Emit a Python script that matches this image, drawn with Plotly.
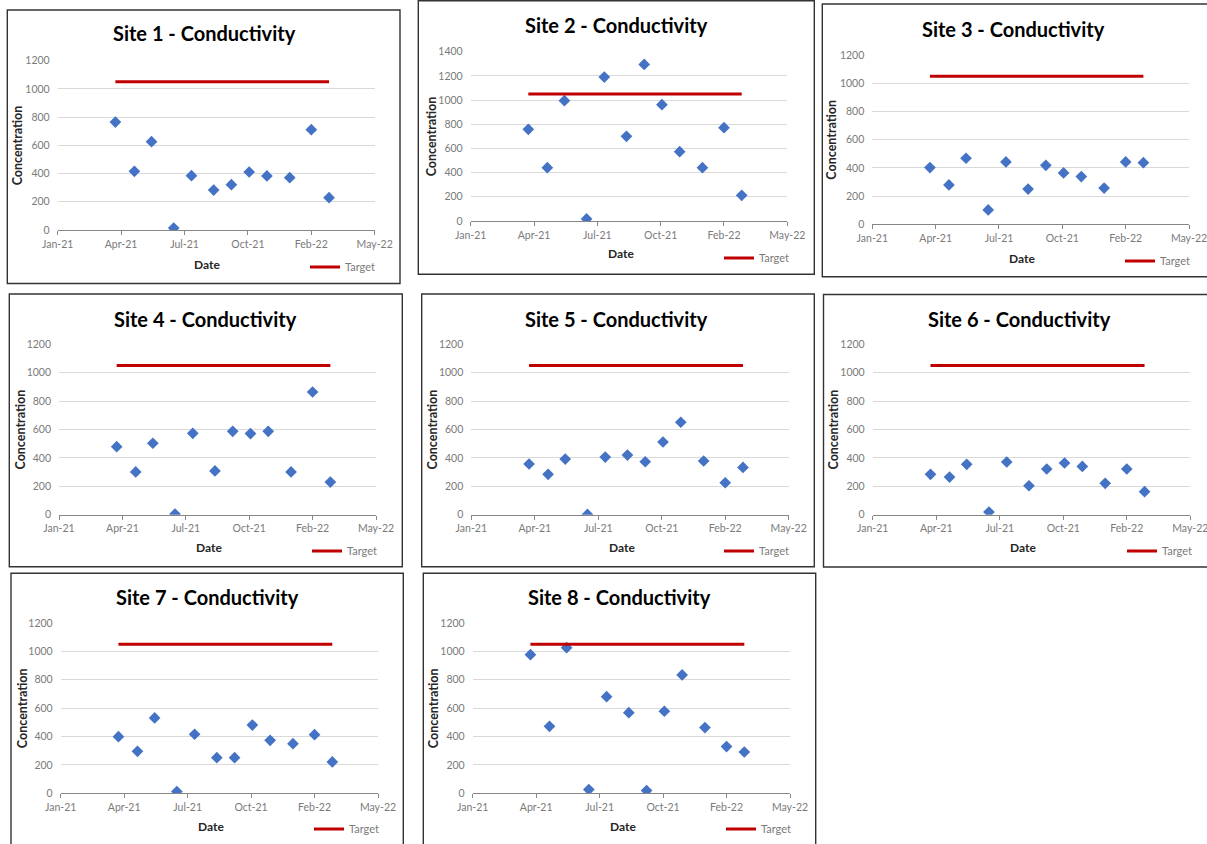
import plotly.graph_objects as go

# ---------------- data ----------------
sample_dates = ["2021-04-02", "2021-05-02", "2021-05-29", "2021-07-03", "2021-07-31",
                "2021-09-04", "2021-10-02", "2021-10-30", "2021-11-27", "2022-01-02",
                "2022-02-05", "2022-03-05"]

tick_dates = ["2021-01-01", "2021-04-11", "2021-07-20", "2021-10-28", "2022-02-05", "2022-05-16"]
tick_labels = ["Jan-21", "Apr-21", "Jul-21", "Oct-21", "Feb-22", "May-22"]

site_titles = ["Site 1 - Conductivity", "Site 2 - Conductivity", "Site 3 - Conductivity",
               "Site 4 - Conductivity", "Site 5 - Conductivity", "Site 6 - Conductivity",
               "Site 7 - Conductivity", "Site 8 - Conductivity"]

site1 = [765, 416, 626, 14, 385, 283, 321, 411, 383, 371, 711, 229]
site2 = [758, 441, 995, 17, 1190, 700, 1295, 962, 573, 441, 772, 212]
site3 = [402, 279, 468, 102, 442, 250, 418, 364, 338, 257, 442, 437]
site4 = [479, 301, 503, 5, 573, 308, 587, 571, 587, 301, 864, 230]
site5 = [357, 284, 392, 2, 406, 420, 373, 512, 651, 378, 225, 333]
site6 = [284, 265, 355, 19, 371, 204, 322, 364, 340, 221, 322, 162]
site7 = [399, 296, 531, 12, 416, 251, 251, 481, 373, 350, 413, 221]
site8 = [977, 472, 1026, 26, 681, 568, 19, 578, 834, 463, 329, 291]
sites = [site1, site2, site3, site4, site5, site6, site7, site8]

target_value = 1050
y_max = [1200, 1400, 1200, 1200, 1200, 1200, 1200, 1200]

# ---------------- layout geometry (pixels) ----------------
W, H = 1207, 844
# plot area: left, right, top(=y max gridline), bottom(=0)
plot_px = [
    (57.7, 374.7, 60.7, 230.0),
    (470.7, 787.3, 51.7, 221.0),
    (872.3, 1189.0, 55.0, 224.3),
    (59.0, 376.0, 344.3, 514.7),
    (471.3, 788.7, 344.3, 514.7),
    (872.7, 1190.3, 344.3, 514.7),
    (60.7, 378.0, 623.0, 793.3),
    (472.7, 790.0, 623.0, 793.3),
]
title_px = [(204, 33), (617, 25), (1013, 29), (205, 319), (617, 319), (1019, 319), (207, 597), (619, 597)]
ytitle_px = [17, 431, 832, 20, 432, 833, 22, 433]
xtitle_px = [(207, 264), (621, 254), (1022, 258), (209, 547), (622, 547), (1023, 547), (211, 826), (623, 826)]
legend_px = [(313, 267), (727, 258), (1128, 261), (315, 551), (727, 551), (1130, 551), (317, 829), (729, 829)]
border_px = [
    (7.3, 10.0, 400.0, 283.5),
    (418.3, 0.7, 814.3, 274.3),
    (822.3, 4.0, 1215.0, 276.7),
    (9.3, 294.0, 402.3, 566.7),
    (421.7, 294.0, 814.3, 566.7),
    (823.5, 294.5, 1215.0, 567.0),
    (11.0, 573.3, 403.3, 850.0),
    (423.3, 573.3, 815.7, 850.0),
]

def px_x(v):
    return v / W

def px_y(v):
    return 1 - v / H

FONT = "Lato, Carlito, Calibri, sans-serif"
fig = go.Figure()
layout = dict(
    width=W, height=H,
    margin=dict(l=0, r=0, t=0, b=0, pad=0, autoexpand=False),
    paper_bgcolor="white", plot_bgcolor="white",
    font=dict(family=FONT, color="#595959"),
    showlegend=True,
    shapes=[], annotations=[],
)

for i in range(8):
    n = i + 1
    xa = "x" if n == 1 else f"x{n}"
    ya = "y" if n == 1 else f"y{n}"
    lg = "legend" if n == 1 else f"legend{n}"

    fig.add_trace(go.Scatter(
        x=sample_dates, y=sites[i], mode="markers", xaxis=xa, yaxis=ya,
        marker=dict(symbol="diamond", size=9, color="#4472C4", line=dict(width=0)),
        name="Concentration", showlegend=False, hoverinfo="x+y",
    ))
    fig.add_trace(go.Scatter(
        x=[sample_dates[0], sample_dates[-1]], y=[target_value, target_value],
        mode="lines", xaxis=xa, yaxis=ya,
        line=dict(color="#C00000", width=3),
        name="Target", showlegend=True, legend=lg,
    ))

    l, r, t, b = plot_px[i]
    layout[f"xaxis{n}"] = dict(
        domain=[px_x(l), px_x(r)], anchor=ya, type="date",
        range=[tick_dates[0], tick_dates[-1]],
        tickmode="array", tickvals=tick_dates, ticktext=tick_labels,
        showgrid=False, showline=True, linecolor="#868686", linewidth=1.3,
        ticks="outside", ticklen=4, tickcolor="#868686", tickwidth=1.3,
        tickfont=dict(size=10.5, color="#7a7a7a", family=FONT),
        ticklabeloverflow="allow",
        zeroline=False, fixedrange=True, automargin=False,
    )
    layout[f"yaxis{n}"] = dict(
        domain=[px_y(b), px_y(t)], anchor=xa,
        range=[0, y_max[i]], dtick=200, tick0=0,
        showgrid=True, gridcolor="#d9d9d9", gridwidth=1,
        showline=False, zeroline=False, ticks="",
        ticklabelstandoff=7,
        tickfont=dict(size=10.5, color="#7a7a7a", family=FONT),
        fixedrange=True, automargin=False,
    )
    lx, ly = legend_px[i]
    layout[lg] = dict(
        x=px_x(lx - 8), y=px_y(ly), xanchor="left", yanchor="middle",
        bgcolor="rgba(0,0,0,0)", borderwidth=0, itemwidth=30,
        font=dict(size=11, color="#7a7a7a", family=FONT),
        tracegroupgap=0,
    )

    bx0, by0, bx1, by1 = border_px[i]
    layout["shapes"].append(dict(
        type="rect", xref="paper", yref="paper",
        x0=px_x(bx0), x1=px_x(bx1), y0=px_y(by1), y1=px_y(by0),
        line=dict(color="#333333", width=1.4), fillcolor="rgba(0,0,0,0)", layer="below",
    ))

    tx, ty = title_px[i]
    layout["annotations"].append(dict(
        text=f"<b>{site_titles[i]}</b>", xref="paper", yref="paper",
        x=px_x(tx), y=px_y(ty), xanchor="center", yanchor="middle", showarrow=False,
        font=dict(size=20, color="#000000", family=FONT),
    ))
    layout["annotations"].append(dict(
        text="<b>Concentration</b>", xref="paper", yref="paper",
        x=px_x(ytitle_px[i]), y=px_y((t + b) / 2), xanchor="center", yanchor="middle",
        textangle=-90, showarrow=False,
        font=dict(size=12.5, color="#262626", family=FONT),
    ))
    dx, dy = xtitle_px[i]
    layout["annotations"].append(dict(
        text="<b>Date</b>", xref="paper", yref="paper",
        x=px_x(dx), y=px_y(dy), xanchor="center", yanchor="middle", showarrow=False,
        font=dict(size=12, color="#262626", family=FONT),
    ))

fig.update_layout(**layout)
fig.write_html(
    "out.html",
    config={"displayModeBar": False},
    post_script="document.body.style.margin='0';document.body.style.overflow='hidden';",
)
